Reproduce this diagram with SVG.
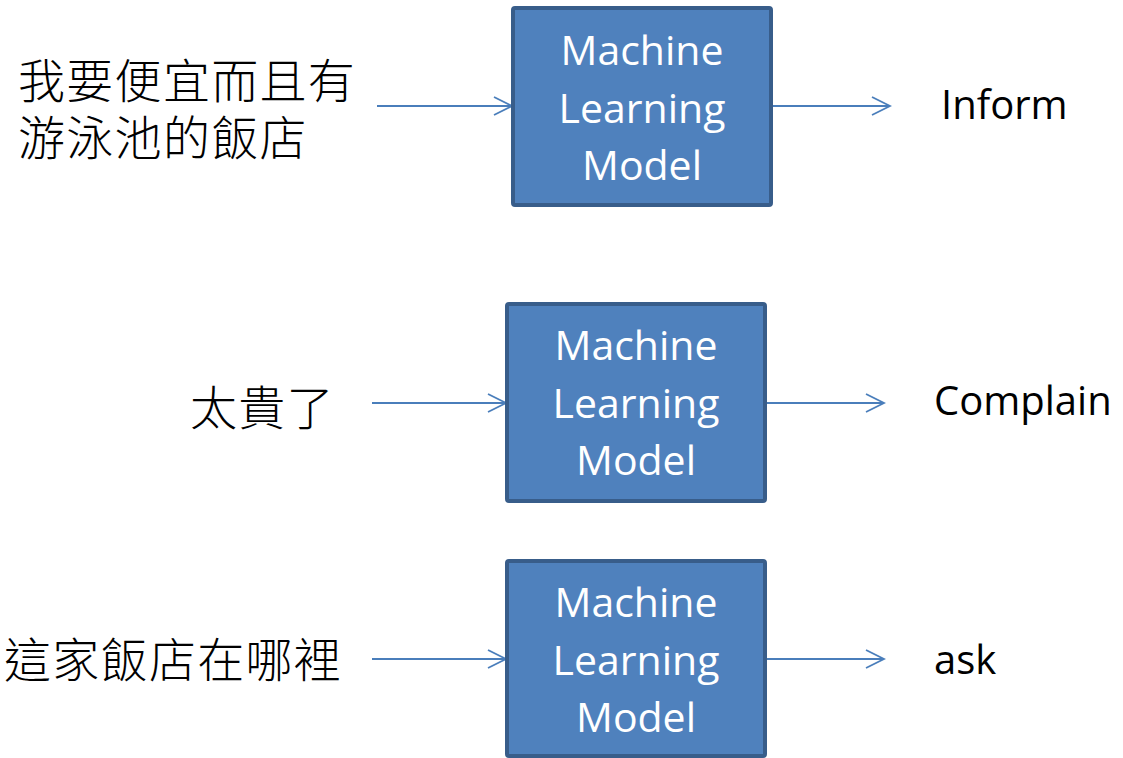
<svg xmlns="http://www.w3.org/2000/svg" width="1123" height="758" viewBox="0 0 1123 758">
<style>
.box{fill:#4f81bd;stroke:#385d8a;stroke-width:4}
.bt{font-family:"Open Sans","Liberation Sans",sans-serif;font-size:41px;fill:#ffffff;text-anchor:middle}
.lbl{font-family:"Open Sans","Liberation Sans",sans-serif;font-size:40px;fill:#000000}
.zh{font-family:"Noto Sans CJK TC","Noto Sans CJK SC",sans-serif;font-size:47px;font-weight:300;letter-spacing:1.3px;fill:#000000}
.arr{stroke:#4a7ebb;stroke-width:1.8;fill:none;marker-end:url(#ah)}
</style>
<defs>
<marker id="ah" viewBox="-21 -11 23 22" markerWidth="23" markerHeight="22" refX="0" refY="0" orient="auto" markerUnits="userSpaceOnUse">
<path d="M-18,-9 L0,0 L-18,9" fill="none" stroke="#4a7ebb" stroke-width="1.8"/>
</marker>
</defs>
<rect width="1123" height="758" fill="#ffffff"/>
<g id="connectors">
<line class="arr" x1="377" y1="106" x2="512" y2="106"/>
<line class="arr" x1="773" y1="106" x2="890" y2="106"/>
<line class="arr" x1="372" y1="403" x2="506" y2="403"/>
<line class="arr" x1="767" y1="403" x2="884" y2="403"/>
<line class="arr" x1="372" y1="659" x2="506" y2="659"/>
<line class="arr" x1="767" y1="659" x2="884" y2="659"/>
</g>
<g id="input1">
<text class="zh" x="18" y="98">我要便宜而且有</text>
<text class="zh" x="18" y="155">游泳池的飯店</text>
</g>
<g id="input2"><text class="zh" x="190" y="425">太貴了</text></g>
<g id="input3"><text class="zh" x="4" y="677">這家飯店在哪裡</text></g>
<g id="model1">
<rect class="box" x="513" y="8" width="258" height="197" rx="2"/>
<text class="bt" x="642" y="65">Machine</text>
<text class="bt" x="642" y="123">Learning</text>
<text class="bt" x="642" y="180">Model</text>
</g>
<g id="model2">
<rect class="box" x="507" y="304" width="258" height="197" rx="2"/>
<text class="bt" x="636" y="360">Machine</text>
<text class="bt" x="636" y="418">Learning</text>
<text class="bt" x="636" y="475">Model</text>
</g>
<g id="model3">
<rect class="box" x="507" y="561" width="258" height="195" rx="2"/>
<text class="bt" x="636" y="617">Machine</text>
<text class="bt" x="636" y="675">Learning</text>
<text class="bt" x="636" y="732">Model</text>
</g>
<g id="out1"><text class="lbl" x="941" y="119">Inform</text></g>
<g id="out2"><text class="lbl" x="934" y="415">Complain</text></g>
<g id="out3"><text class="lbl" x="934" y="674">ask</text></g>
</svg>
